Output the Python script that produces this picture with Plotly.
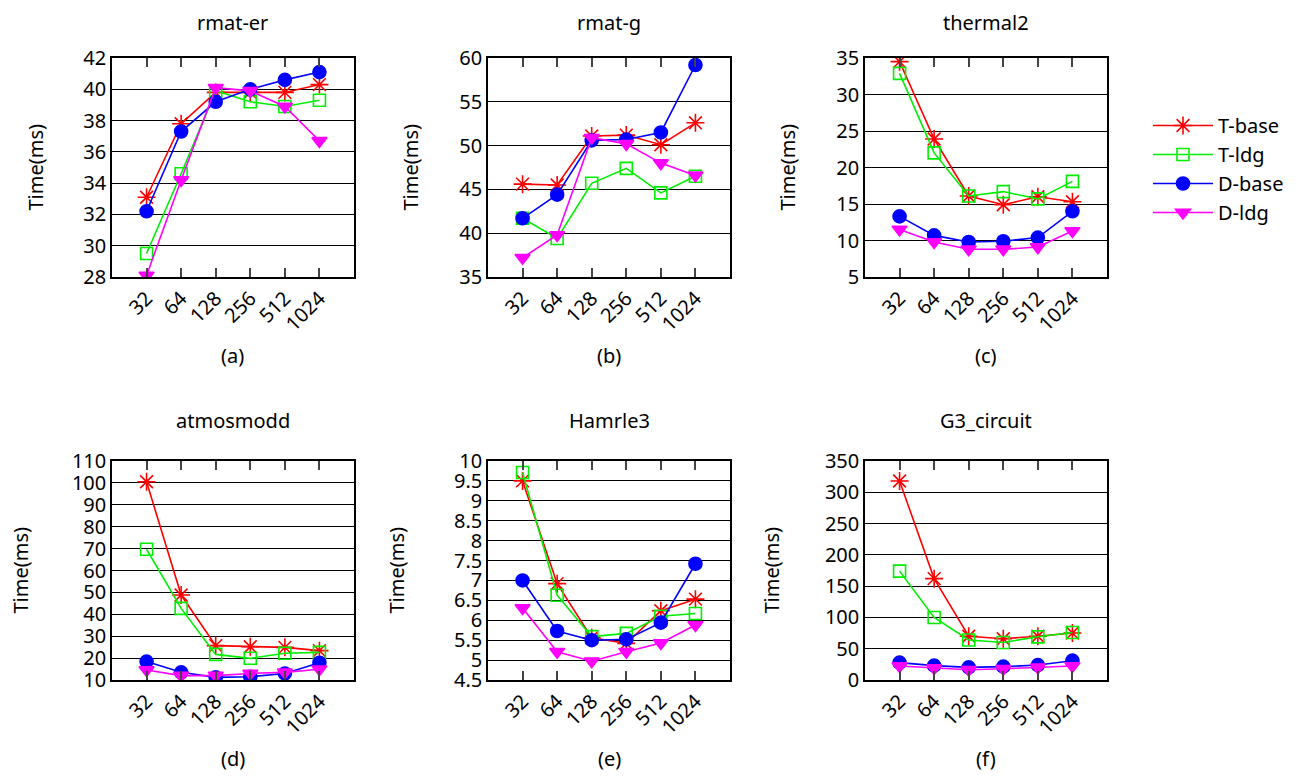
import plotly.graph_objects as go

threads = ["32", "64", "128", "256", "512", "1024"]
series_names = ["T-base", "T-ldg", "D-base", "D-ldg"]
panel_titles = ["rmat-er", "rmat-g", "thermal2", "atmosmodd", "Hamrle3", "G3_circuit"]
panel_labels = ["(a)", "(b)", "(c)", "(d)", "(e)", "(f)"]

# (a) rmat-er
rmat_er_tbase = [33.1, 37.8, 39.8, 39.8, 39.8, 40.3]
rmat_er_tldg = [29.5, 34.6, 39.9, 39.2, 38.9, 39.3]
rmat_er_dbase = [32.2, 37.3, 39.2, 40.0, 40.6, 41.1]
rmat_er_dldg = [28.1, 34.2, 40.1, 39.9, 38.9, 36.7]
# (b) rmat-g
rmat_g_tbase = [45.6, 45.5, 51.1, 51.2, 50.1, 52.6]
rmat_g_tldg = [41.7, 39.4, 45.7, 47.4, 44.6, 46.5]
rmat_g_dbase = [41.7, 44.4, 50.6, 50.7, 51.5, 59.2]
rmat_g_dldg = [37.2, 39.8, 50.9, 50.2, 48.0, 46.6]
# (c) thermal2
thermal2_tbase = [34.5, 23.9, 16.1, 14.9, 16.0, 15.3]
thermal2_tldg = [32.9, 22.0, 16.1, 16.7, 15.7, 18.1]
thermal2_dbase = [13.3, 10.7, 9.8, 9.9, 10.4, 14.0]
thermal2_dldg = [11.5, 9.8, 8.8, 8.8, 9.1, 11.3]
# (d) atmosmodd
atmosmodd_tbase = [100.5, 48.8, 25.7, 25.2, 24.9, 23.4]
atmosmodd_tldg = [69.7, 42.7, 21.7, 19.9, 22.2, 22.6]
atmosmodd_dbase = [18.4, 13.5, 11.2, 11.5, 13.0, 17.9]
atmosmodd_dldg = [14.6, 12.0, 12.0, 13.0, 13.5, 14.9]
# (e) Hamrle3
hamrle3_tbase = [9.5, 6.92, 5.56, 5.42, 6.24, 6.53]
hamrle3_tldg = [9.71, 6.63, 5.59, 5.67, 6.1, 6.17]
hamrle3_dbase = [7.0, 5.73, 5.5, 5.52, 5.94, 7.42]
hamrle3_dldg = [6.31, 5.21, 4.97, 5.21, 5.43, 5.88]
# (f) G3_circuit
g3_tbase = [318, 162, 70, 66, 70, 75]
g3_tldg = [174, 100, 64, 60, 69, 76]
g3_dbase = [27.7, 22.9, 20.2, 21.3, 23.9, 30.9]
g3_dldg = [22.3, 19.1, 16.5, 18.0, 20.2, 22.3]

y_ranges = [(28, 42, 2), (35, 60, 5), (5, 35, 5), (10, 110, 10), (4.5, 10, 0.5), (0, 350, 50)]

panels = [
    [rmat_er_tbase, rmat_er_tldg, rmat_er_dbase, rmat_er_dldg],
    [rmat_g_tbase, rmat_g_tldg, rmat_g_dbase, rmat_g_dldg],
    [thermal2_tbase, thermal2_tldg, thermal2_dbase, thermal2_dldg],
    [atmosmodd_tbase, atmosmodd_tldg, atmosmodd_dbase, atmosmodd_dldg],
    [hamrle3_tbase, hamrle3_tldg, hamrle3_dbase, hamrle3_dldg],
    [g3_tbase, g3_tldg, g3_dbase, g3_dldg],
]

W, H = 1307, 776
OFF = 8  # page body margin
FONT = "Noto Sans"
FS = 20
colors = ["#ff0000", "#00ee00", "#0000ff", "#ff00ff"]
symbols = ["asterisk-open", "square-open", "circle", "triangle-down"]
msizes = [15, 12, 13, 13]

col_px = [(112, 354), (488, 730), (865, 1107)]
row_px = [(58, 277), (461, 680)]
ytitle_x = [35, 410, 787, 20, 396, 771]


def px_x(x):
    return (x - OFF) / W


def px_y(y):
    return 1 - (y - OFF) / H


fig = go.Figure()
annotations = []

for p in range(6):
    r, c = divmod(p, 3)
    ax = "" if p == 0 else str(p + 1)
    x0, x1 = col_px[c]
    y0, y1 = row_px[r]
    xd = [px_x(x0), px_x(x1)]
    yd = [px_y(y1), px_y(y0)]
    for s in range(4):
        fig.add_trace(go.Scatter(
            x=threads, y=panels[p][s], mode="lines+markers",
            name=series_names[s], showlegend=(p == 0), legendgroup=series_names[s],
            line=dict(color=colors[s], width=1.6),
            marker=dict(symbol=symbols[s], size=msizes[s], color=colors[s],
                        line=dict(color=colors[s], width=1.6)),
            xaxis="x" + ax, yaxis="y" + ax,
        ))
    ymin, ymax, dt = y_ranges[p]
    fig.layout["xaxis" + ax] = dict(
        domain=xd, anchor="y" + ax, type="category", range=[-1, 6], automargin=False,
        tickmode="array", tickvals=threads, ticktext=threads,
        ticks="inside", ticklen=9, tickwidth=1.5, tickcolor="#444",
        showline=True, linecolor="black", linewidth=1.5, mirror="ticks",
        showgrid=False, tickangle=-45, tickfont=dict(family=FONT, size=FS, color="black"),
    )
    fig.layout["yaxis" + ax] = dict(
        domain=yd, anchor="x" + ax, range=[ymin, ymax], dtick=dt, tick0=ymin, automargin=False,
        ticks="inside", ticklen=6, tickcolor="black",
        showline=True, linecolor="black", linewidth=1.5, mirror="ticks",
        showgrid=True, gridcolor="black", gridwidth=1, zeroline=False,
        tickfont=dict(family=FONT, size=FS, color="black"),
    )
    xc = px_x((x0 + x1) / 2)
    if r == 0:
        annotations.append(dict(text=panel_titles[p], x=xc, y=1.0, xref="paper", yref="paper",
                                showarrow=False, font=dict(family=FONT, size=FS, color="black"),
                                xanchor="center", yanchor="top", borderpad=0))
    else:
        annotations.append(dict(text=panel_titles[p], x=xc, y=px_y(420), xref="paper", yref="paper",
                                showarrow=False, font=dict(family=FONT, size=FS, color="black"),
                                xanchor="center", yanchor="middle"))
    label_y = 355 if r == 0 else 758
    annotations.append(dict(text=panel_labels[p], x=xc, y=px_y(label_y), xref="paper", yref="paper",
                            showarrow=False, font=dict(family=FONT, size=FS, color="black"),
                            xanchor="center", yanchor="middle"))
    annotations.append(dict(text="Time(ms)", x=px_x(ytitle_x[p]), y=px_y((y0 + y1) / 2),
                            xref="paper", yref="paper", showarrow=False, textangle=-90,
                            font=dict(family=FONT, size=FS, color="black"),
                            xanchor="center", yanchor="middle"))

fig.update_layout(
    width=W, height=H, margin=dict(l=0, r=0, t=0, b=0, autoexpand=False),
    template="none",
    paper_bgcolor="white", plot_bgcolor="white",
    font=dict(family=FONT, size=FS, color="black"),
    annotations=annotations,
    legend=dict(x=1140 / W, y=1 - 98 / H, xanchor="left", yanchor="top",
                font=dict(family=FONT, size=FS, color="black"),
                itemwidth=60, tracegroupgap=0, bgcolor="rgba(0,0,0,0)"),
)

fig.write_html("out.html")
